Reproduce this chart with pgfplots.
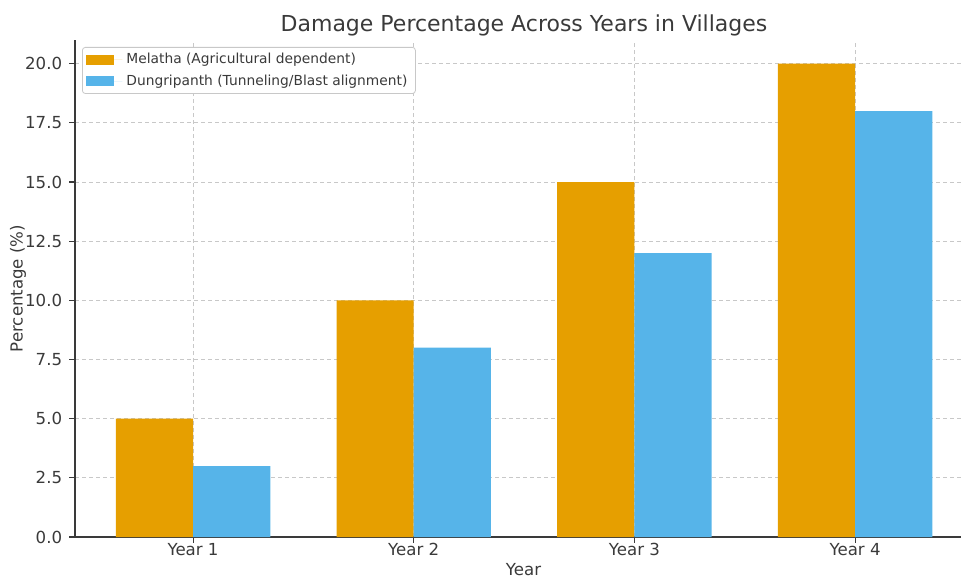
\documentclass[border=0pt]{standalone}
\usepackage{fontspec}
\setmainfont{DejaVu Sans}
\usepackage{pgfplots}
\pgfplotsset{compat=1.18}

\definecolor{melatha}{HTML}{E69F00}
\definecolor{dungri}{HTML}{56B4E9}
\definecolor{txt}{HTML}{3A3A3A}
\definecolor{gridc}{HTML}{C8C8C8}

\begin{document}
\begin{tikzpicture}[x=1pt,y=1pt]
\useasboundingbox (0,0) rectangle (480.5,290);
\begin{axis}[
  at={(37.5pt,21.5pt)}, anchor=south west,
  scale only axis, width=443pt, height=248.5pt,
  xmin=-0.535, xmax=3.48, ymin=0, ymax=21,
  axis lines*=left,
  axis line style={txt, line width=0.65pt},
  xtick={0,1,2,3},
  xticklabels={Year 1, Year 2, Year 3, Year 4},
  ytick={0,2.5,...,20},
  /pgf/number format/.cd, fixed, fixed zerofill, precision=1, assume math mode=true,
  /pgfplots/.cd,
  tick align=outside, major tick length=2.9pt,
  tick style={txt, line width=0.55pt},
  tick label style={font=\fontsize{8.3}{10}\selectfont, text=txt},
  xticklabel style={yshift=3.4pt},
  grid=major,
  major grid style={gridc, dash pattern=on 2pt off 1.5pt, line width=0.4pt},
  ybar, bar width=0.35,
  legend style={at={(0.0079,0.986)}, anchor=north west,
    font=\fontsize{6.9}{8.3}\selectfont, text=txt,
    draw=gridc, rounded corners=1.5pt, fill=white,
    inner xsep=2pt, inner ysep=0.75pt, row sep=0.1pt},
  legend cell align=left,
  legend image code/.code={\fill[#1, sharp corners] (0pt,-2.5pt) rectangle (14pt,2.5pt);
    \path (0pt,0pt) -- (18pt,0pt);},
]
\addplot[fill=melatha, draw=none, bar shift=-0.175] coordinates {(0,5) (1,10) (2,15) (3,20)};
\addlegendentry{Melatha (Agricultural dependent)}
\addplot[fill=dungri, draw=none, bar shift=0.175] coordinates {(0,3) (1,8) (2,12) (3,18)};
\addlegendentry{Dungripanth (Tunneling/Blast alignment)}
\end{axis}
\node[anchor=base, text=txt, font=\fontsize{11}{13}\selectfont] at (262,274) {Damage Percentage Across Years in Villages};
\node[anchor=base, text=txt, font=\fontsize{8.3}{10}\selectfont] at (261.75,2.5) {Year};
\node[rotate=90, text=txt, font=\fontsize{8.3}{10}\selectfont] at (9,145.75) {Percentage (\%)};
\end{tikzpicture}
\end{document}
